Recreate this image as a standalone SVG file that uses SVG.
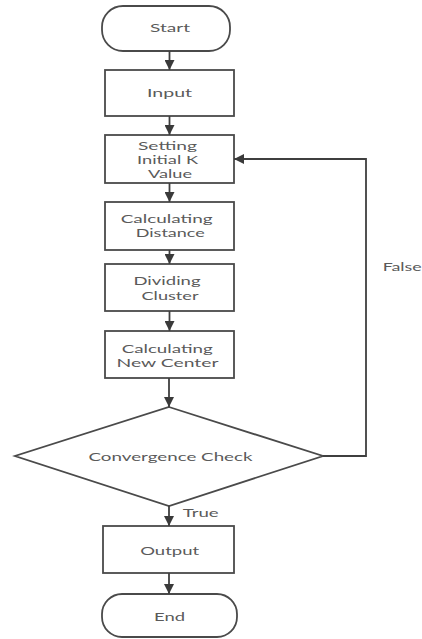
<svg xmlns="http://www.w3.org/2000/svg" width="422" height="639" viewBox="0 0 422 639">
<defs>
<marker id="arr" viewBox="0 0 10 10" refX="10" refY="5" markerWidth="10" markerHeight="10" markerUnits="userSpaceOnUse" orient="auto">
<path d="M0,0 L10,5 L0,10 z" fill="#3a3a3a"/>
</marker>
<style>
.n{fill:#fff;stroke:#4a4a4a;stroke-width:1.8}
.t{font-family:Lato,"Open Sans",sans-serif;font-size:11.5px;fill:#5a5a5a;text-anchor:middle}
.l{font-family:Lato,"Open Sans",sans-serif;font-size:11.5px;fill:#5a5a5a}
.c{fill:none;stroke:#3f3f3f;stroke-width:1.8}
</style>
</defs>
<rect width="422" height="639" fill="#fff"/>
<g id="start"><rect class="n" x="102" y="6" width="128" height="45" rx="21"/><text class="t" x="170" y="32" textLength="40" lengthAdjust="spacingAndGlyphs">Start</text></g>
<g id="input"><rect class="n" x="105" y="70" width="129" height="46"/><text class="t" x="169.5" y="97" textLength="45" lengthAdjust="spacingAndGlyphs">Input</text></g>
<g id="setk"><rect class="n" x="105" y="135" width="129" height="48"/>
<text class="t" x="167.5" y="149.5" textLength="59" lengthAdjust="spacingAndGlyphs">Setting</text>
<text class="t" x="167.5" y="163.5" textLength="61" lengthAdjust="spacingAndGlyphs">Initial K</text>
<text class="t" x="170" y="177.5" textLength="44" lengthAdjust="spacingAndGlyphs">Value</text></g>
<g id="dist"><rect class="n" x="105" y="202" width="129" height="48"/>
<text class="t" x="166.7" y="223" textLength="92" lengthAdjust="spacingAndGlyphs">Calculating</text>
<text class="t" x="170.3" y="237" textLength="69" lengthAdjust="spacingAndGlyphs">Distance</text></g>
<g id="divide"><rect class="n" x="105" y="264" width="129" height="47"/>
<text class="t" x="167" y="285" textLength="67" lengthAdjust="spacingAndGlyphs">Dividing</text>
<text class="t" x="170" y="300" textLength="57" lengthAdjust="spacingAndGlyphs">Cluster</text></g>
<g id="center"><rect class="n" x="105" y="331" width="129" height="47"/>
<text class="t" x="167.2" y="353" textLength="91" lengthAdjust="spacingAndGlyphs">Calculating</text>
<text class="t" x="167.5" y="367" textLength="102" lengthAdjust="spacingAndGlyphs">New Center</text></g>
<g id="check"><polygon class="n" points="169,407 323,456 169,506 15,456"/>
<text class="t" x="170.5" y="461" textLength="164" lengthAdjust="spacingAndGlyphs">Convergence Check</text></g>
<g id="output"><rect class="n" x="103" y="526" width="131" height="47"/>
<text class="t" x="169.7" y="555" textLength="59" lengthAdjust="spacingAndGlyphs">Output</text></g>
<g id="end"><rect class="n" x="102" y="594" width="135" height="43" rx="20"/>
<text class="t" x="169.5" y="621" textLength="31" lengthAdjust="spacingAndGlyphs">End</text></g>
<g id="connectors">
<line class="c" x1="169.5" y1="51" x2="169.5" y2="70" marker-end="url(#arr)"/>
<line class="c" x1="169.5" y1="116" x2="169.5" y2="135" marker-end="url(#arr)"/>
<line class="c" x1="169.5" y1="183" x2="169.5" y2="202" marker-end="url(#arr)"/>
<line class="c" x1="169.5" y1="250" x2="169.5" y2="264" marker-end="url(#arr)"/>
<line class="c" x1="169.5" y1="311" x2="169.5" y2="331" marker-end="url(#arr)"/>
<line class="c" x1="169" y1="378" x2="169" y2="407" marker-end="url(#arr)"/>
<line class="c" x1="169" y1="506" x2="169" y2="526" marker-end="url(#arr)"/>
<line class="c" x1="169" y1="573" x2="169" y2="594" marker-end="url(#arr)"/>
<polyline class="c" points="323,456 366,456 366,159 234,159" marker-end="url(#arr)"/>
<text class="l" x="182.7" y="517" textLength="36" lengthAdjust="spacingAndGlyphs">True</text>
<text class="l" x="382.7" y="271" textLength="39" lengthAdjust="spacingAndGlyphs">False</text>
</g>
</svg>
